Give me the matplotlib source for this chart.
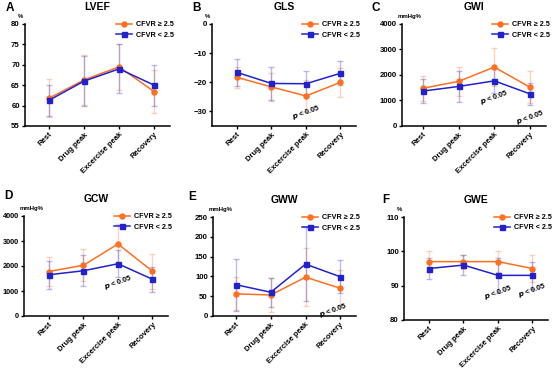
import matplotlib
matplotlib.use("Agg")
import matplotlib.pyplot as plt
import numpy as np

plt.rcParams['font.family'] = ['Liberation Sans', 'DejaVu Sans']
plt.rcParams['font.weight'] = 'bold'

categories = ["Rest", "Drug peak", "Excercise peak", "Recovery"]
labels = ["CFVR \u2265 2.5", "CFVR < 2.5"]

lvef_hi = [61.8, 66.3, 69.5, 63.4]
lvef_hi_sd = [4.6, 6.2, 5.6, 5.3]
lvef_lo = [61.3, 66.0, 69.0, 65.0]
lvef_lo_sd = [3.8, 6.2, 6.0, 5.0]

gls_hi = [-18.3, -21.6, -24.7, -20.0]
gls_hi_sd = [3.7, 4.8, 5.5, 4.9]
gls_lo = [-16.6, -20.4, -20.5, -16.9]
gls_lo_sd = [4.6, 5.6, 4.5, 4.1]

gwi_hi = [1480, 1750, 2310, 1520]
gwi_hi_sd = [500, 580, 740, 620]
gwi_lo = [1370, 1550, 1770, 1260]
gwi_lo_sd = [480, 590, 460, 420]

gcw_hi = [1780, 2030, 2880, 1790]
gcw_hi_sd = [570, 640, 800, 690]
gcw_lo = [1650, 1810, 2090, 1470]
gcw_lo_sd = [560, 620, 540, 500]

gww_hi = [56, 53, 98, 70]
gww_hi_sd = [42, 42, 74, 45]
gww_lo = [79, 60, 131, 99]
gww_lo_sd = [66, 37, 94, 42]

gwe_hi = [97, 97, 97, 95]
gwe_hi_sd = [3, 2, 3, 4]
gwe_lo = [95, 96, 93, 93]
gwe_lo_sd = [3, 3, 5, 4]

ORANGE = "#FF6F1F"
BLUE = "#2222CC"
W, H = 560, 371

fig = plt.figure(figsize=(W / 100, H / 100), dpi=100)


def panel(letter, title, unit, hi, hi_sd, lo, lo_sd, ylim, yticks,
          left, top, bottom, right, first_off, pvals, letter_xy, ytick_fs=5.6):
    ax = fig.add_axes([left / W, 1 - bottom / H, (right - left) / W, (bottom - top) / H])
    x = np.arange(len(categories))
    ax.errorbar(x, hi, yerr=hi_sd, fmt='none', ecolor=ORANGE, alpha=0.3,
                elinewidth=1.0, capsize=2.5, capthick=1.0, zorder=2)
    ax.errorbar(x, lo, yerr=lo_sd, fmt='none', ecolor=BLUE, alpha=0.3,
                elinewidth=1.0, capsize=2.5, capthick=1.0, zorder=2)
    ax.plot(x, hi, color=ORANGE, marker='o', markersize=3.6, lw=1.1,
            label=labels[0], zorder=3)
    ax.plot(x, lo, color=BLUE, marker='s', markersize=3.6, lw=1.1,
            label=labels[1], zorder=3)
    ax.set_ylim(*ylim)
    ax.set_yticks(yticks)
    span = right - left
    spacing = (span - first_off) / (3 + 0.45)
    ax.set_xlim(-first_off / spacing, 3.45)
    ax.set_xticks(x)
    ax.set_xticklabels(categories, rotation=45, ha='right', rotation_mode='anchor',
                       fontsize=5.5, fontweight='bold')
    for lab in ax.get_yticklabels():
        lab.set_fontsize(ytick_fs)
        lab.set_fontweight('bold')
    for s in ['top', 'right']:
        ax.spines[s].set_visible(False)
    for s in ['left', 'bottom']:
        ax.spines[s].set_linewidth(1.1)
    ax.tick_params(axis='both', width=1.0, length=2.5, pad=1.2)
    ax.set_title(title, fontsize=7.5, fontweight='bold', pad=10)
    ax.text(-0.03, 1.05, unit, transform=ax.transAxes, fontsize=4.3,
            fontweight='bold', ha='center' if unit == '%' else 'left', va='bottom')
    fig.text(letter_xy[0] / W, 1 - letter_xy[1] / H, letter, fontsize=8.5,
             fontweight='bold', ha='left', va='center')
    leg = ax.legend(loc='upper right', bbox_to_anchor=(1.06, 1.07), frameon=False,
                    fontsize=5.2, handlelength=2.2, handletextpad=0.6,
                    labelspacing=0.45, borderaxespad=0.2)
    for t in leg.get_texts():
        t.set_fontweight('bold')
    for (px, py) in pvals:
        ax.text(px, py, r"$\it{p}$ < 0.05", fontsize=5.2, fontweight='bold',
                rotation=20, ha='center', va='center')
    return ax


panel("A", "LVEF", "%", lvef_hi, lvef_hi_sd, lvef_lo, lvef_lo_sd, (55, 80),
      [55, 60, 65, 70, 75, 80], 25, 24, 126, 170, 24, [], (6, 8))
panel("B", "GLS", "%", gls_hi, gls_hi_sd, gls_lo, gls_lo_sd, (-35, 0),
      [-30, -20, -10, 0], 212, 24, 126, 356, 25, [(2.0, -30.2)], (192, 8))
panel("C", "GWI", "mmHg%", gwi_hi, gwi_hi_sd, gwi_lo, gwi_lo_sd, (0, 4000),
      [0, 1000, 2000, 3000, 4000], 402, 24, 126, 546, 21,
      [(2.0, 1140), (3.0, 360)], (372, 8))
panel("D", "GCW", "mmHg%", gcw_hi, gcw_hi_sd, gcw_lo, gcw_lo_sd, (0, 4000),
      [0, 1000, 2000, 3000, 4000], 24, 216, 316, 168, 25,
      [(2.0, 1360)], (4, 196), ytick_fs=5.3)
panel("E", "GWW", "mmHg%", gww_hi, gww_hi_sd, gww_lo, gww_lo_sd, (0, 250),
      [0, 50, 100, 150, 200, 250], 213, 217, 316, 356, 23,
      [(2.8, 15)], (188, 197))
panel("F", "GWE", "%", gwe_hi, gwe_hi_sd, gwe_lo, gwe_lo_sd, (80, 110),
      [80, 90, 100, 110], 404, 217, 320, 548, 25,
      [(2.0, 88), (3.0, 88.7)], (382, 200))

fig.savefig("out.png", dpi=100)
